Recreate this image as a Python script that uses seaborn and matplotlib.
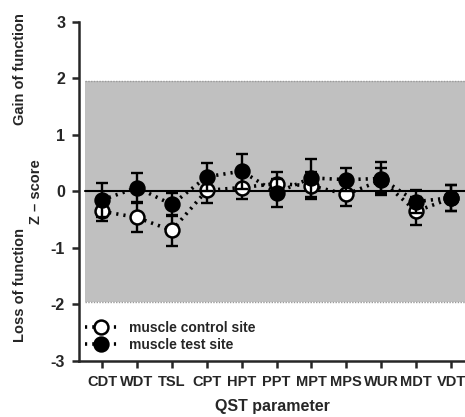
import numpy as np
import pandas as pd
import matplotlib
matplotlib.use("Agg")
import matplotlib.pyplot as plt
from matplotlib.lines import Line2D
import seaborn as sns

params = ["CDT", "WDT", "TSL", "CPT", "HPT", "PPT", "MPT", "MPS", "WUR", "MDT", "VDT"]
control_mean = [-0.35, -0.46, -0.69, 0.02, 0.07, 0.14, 0.10, -0.05, 0.20, -0.35, -0.12]
control_sem = [0.17, 0.25, 0.27, 0.22, 0.21, 0.21, 0.24, 0.20, 0.22, 0.25, 0.23]
test_mean = [-0.15, 0.07, -0.23, 0.26, 0.36, -0.02, 0.24, 0.21, 0.23, -0.18, -0.11]
test_sem = [0.30, 0.26, 0.21, 0.25, 0.31, 0.25, 0.33, 0.20, 0.30, 0.20, 0.23]
yticks = [-3, -2, -1, 0, 1, 2, 3]

sns.set_style("ticks")
plt.rcParams["font.family"] = ["Liberation Sans", "DejaVu Sans"]
plt.rcParams["font.weight"] = "bold"

fig = plt.figure(figsize=(4.65, 4.17), dpi=100)
x0, x1 = -0.66, 10.4
ax = fig.add_axes([79/465, 1-361/417, 386/465, (361-22)/417])

xpos = np.arange(len(params))
df = pd.DataFrame({
    "x": np.concatenate([xpos, xpos]),
    "z": control_mean + test_mean,
    "sem": control_sem + test_sem,
    "site": ["muscle control site"] * len(params) + ["muscle test site"] * len(params),
})

DOT = (0, (0.6, 1.4))

# normal range shading
ax.axhspan(-1.96, 1.96, xmin=(-0.5 - x0)/(x1 - x0), xmax=1, color="#C0C0C0", zorder=0, lw=0)
ax.plot([-0.5, x1], [1.96, 1.96], ls=(0, (1, 1)), color="#9a9a9a", lw=1, zorder=1)
ax.plot([-0.5, x1], [-1.96, -1.96], ls=(0, (1, 1)), color="#9a9a9a", lw=1, zorder=1)
ax.plot([-0.5, x1], [0, 0], color="black", lw=1.5, zorder=1)

styles = {"muscle control site": ("white", 3), "muscle test site": ("black", 5)}
for site, (fc, z) in styles.items():
    d = df[df["site"] == site]
    ax.errorbar(d["x"], d["z"], yerr=d["sem"], fmt="none", ecolor="black",
                elinewidth=1.7, capsize=4.5, capthick=1.7, zorder=z)
    sns.lineplot(data=d, x="x", y="z", ax=ax, color="black", linestyle=DOT, lw=2.6,
                 marker="o", markersize=10, markerfacecolor=fc, markeredgecolor="black",
                 markeredgewidth=1.8, zorder=z + 1, legend=False)

ax.set_xlim(x0, x1)
ax.set_ylim(-3, 3)
ax.set_xticks(xpos)
ax.set_xticklabels(params, fontsize=10.5, fontweight="bold")
ax.set_yticks(yticks)
ax.set_yticklabels([str(t) for t in yticks], fontsize=11.5, fontweight="bold")
for s in ["top", "right"]:
    ax.spines[s].set_visible(False)
ax.spines["left"].set_linewidth(1.8)
ax.spines["bottom"].set_linewidth(1.8)
ax.tick_params(axis="both", width=1.8, length=5, direction="out", pad=5)

ax.set_xlabel("QST parameter", fontsize=11.5, fontweight="bold", labelpad=7)
ax.set_ylabel("")
fig.text(36/465, 1-192/417, "Z – score", rotation=90, ha="center", va="center",
         fontsize=10.5, fontweight="bold")
fig.text(20/465, 1-69/417, "Gain of function", rotation=90, ha="center", va="center",
         fontsize=10.5, fontweight="bold")
fig.text(20/465, 1-285/417, "Loss of function", rotation=90, ha="center", va="center",
         fontsize=10.5, fontweight="bold")

handles = [
    Line2D([], [], color="black", ls=DOT, lw=2.6, marker="o", markersize=10,
           markerfacecolor="white", markeredgecolor="black", markeredgewidth=1.8),
    Line2D([], [], color="black", ls=DOT, lw=2.6, marker="o", markersize=10,
           markerfacecolor="black", markeredgecolor="black", markeredgewidth=1.8),
]
leg = ax.legend(handles, ["muscle control site", "muscle test site"], loc="upper left",
                bbox_to_anchor=(0.0, 0.135), frameon=False, handlelength=2.4,
                handletextpad=0.8, labelspacing=0.2, borderaxespad=0.0,
                prop={"size": 10, "weight": "bold"})

fig.savefig("out.png", dpi=100)
